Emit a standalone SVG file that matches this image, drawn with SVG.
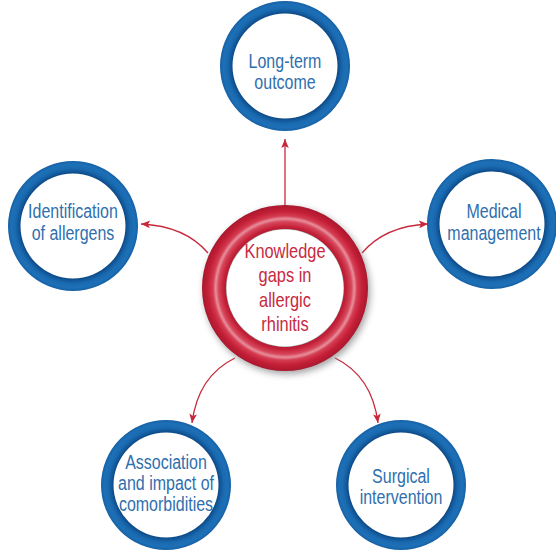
<svg xmlns="http://www.w3.org/2000/svg" xmlns:xlink="http://www.w3.org/1999/xlink" width="556" height="553" viewBox="0 0 556 553">
<style>
.bt{font-family:"Liberation Sans",Arial,sans-serif;font-size:19.5px;fill:#2f6fad;text-anchor:middle}
.rt{font-family:"Liberation Sans",Arial,sans-serif;font-size:20px;fill:#c72a3e;text-anchor:middle}
.conn{fill:none;stroke:#c8283c;stroke-width:1.3}
</style>
<defs>
<radialGradient id="gBlue" cx="0.5" cy="0.5" r="0.5">
<stop offset="0.80" stop-color="#0a447d"/>
<stop offset="0.84" stop-color="#12589b"/>
<stop offset="0.89" stop-color="#1a6ab0"/>
<stop offset="0.95" stop-color="#1d70b7"/>
<stop offset="1" stop-color="#1660a4"/>
</radialGradient>
<radialGradient id="gRed" cx="0.5" cy="0.5" r="0.5">
<stop offset="0.70" stop-color="#ae1a2f"/>
<stop offset="0.74" stop-color="#c52139"/>
<stop offset="0.80" stop-color="#d6475b"/>
<stop offset="0.835" stop-color="#e88e9a"/>
<stop offset="0.87" stop-color="#d43c51"/>
<stop offset="0.93" stop-color="#c41f37"/>
<stop offset="1" stop-color="#a9182e"/>
</radialGradient>
<filter id="shadow" x="-20%" y="-20%" width="140%" height="140%">
<feGaussianBlur stdDeviation="3.5"/>
</filter>
<path id="blueRing" fill="url(#gBlue)" fill-rule="evenodd" d="M-65,0 a65,65 0 1,0 130,0 a65,65 0 1,0 -130,0 Z M-52.5,0 a52.5,52.5 0 1,0 105,0 a52.5,52.5 0 1,0 -105,0 Z"/>
<marker id="arr" markerUnits="userSpaceOnUse" markerWidth="12" markerHeight="12" viewBox="-10 -6 12 12" refX="0" refY="0" orient="auto">
<path d="M0,0 L-9,-3.8 L-7,0 L-9,3.8 Z" fill="#c8283c"/>
</marker>
</defs>
<rect width="556" height="553" fill="#ffffff"/>
<g id="connectors">
<path class="conn" d="M285,206 L285,139" marker-end="url(#arr)"/>
<path class="conn" d="M208,253 Q185,226 141,224" marker-end="url(#arr)"/>
<path class="conn" d="M362,253 Q385,226 428,224" marker-end="url(#arr)"/>
<path class="conn" d="M235,358 Q198,376 192,423" marker-end="url(#arr)"/>
<path class="conn" d="M335,358 Q372,376 378,423" marker-end="url(#arr)"/>
</g>
<g id="center">
<circle cx="287" cy="291" r="83" fill="#8a8a8a" filter="url(#shadow)" opacity="0.8"/>
<path fill="url(#gRed)" fill-rule="evenodd" d="M202,288 a83,83 0 1,0 166,0 a83,83 0 1,0 -166,0 Z M226,288 a59,59 0 1,0 118,0 a59,59 0 1,0 -118,0 Z"/>
<circle cx="285" cy="288" r="58.5" fill="#ffffff"/>
<text class="rt" transform="translate(285,0) scale(0.82,1)"><tspan x="0" y="258">Knowledge</tspan><tspan x="0" y="282.5">gaps in</tspan><tspan x="0" y="307">allergic</tspan><tspan x="0" y="331.5">rhinitis</tspan></text>
</g>
<g id="n-longterm">
<use xlink:href="#blueRing" x="285" y="66"/>
<text class="bt" transform="translate(285,0) scale(0.82,1)"><tspan x="0" y="68">Long-term</tspan><tspan x="0" y="89">outcome</tspan></text>
</g>
<g id="n-identification">
<use xlink:href="#blueRing" x="73" y="226"/>
<text class="bt" transform="translate(73,0) scale(0.82,1)"><tspan x="0" y="218">Identification</tspan><tspan x="0" y="240">of allergens</tspan></text>
</g>
<g id="n-medical">
<use xlink:href="#blueRing" x="492" y="224"/>
<text class="bt" transform="translate(494,0) scale(0.82,1)"><tspan x="0" y="218">Medical</tspan><tspan x="0" y="240">management</tspan></text>
</g>
<g id="n-association">
<use xlink:href="#blueRing" x="166" y="485"/>
<text class="bt" transform="translate(166,0) scale(0.82,1)"><tspan x="0" y="469">Association</tspan><tspan x="0" y="490">and impact of</tspan><tspan x="0" y="511">comorbidities</tspan></text>
</g>
<g id="n-surgical">
<use xlink:href="#blueRing" x="401" y="485"/>
<text class="bt" transform="translate(401,0) scale(0.82,1)"><tspan x="0" y="483">Surgical</tspan><tspan x="0" y="504">intervention</tspan></text>
</g>
</svg>
